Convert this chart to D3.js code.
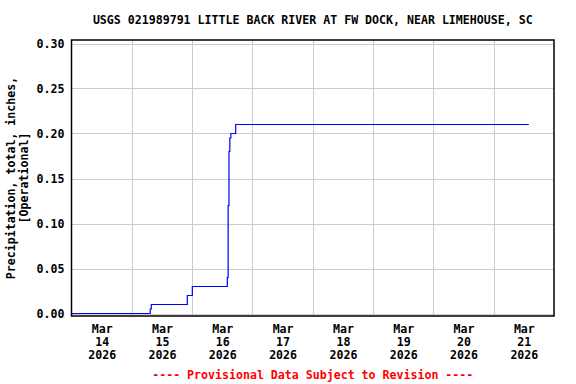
<!DOCTYPE html>
<html>
<head>
<meta charset="utf-8">
<script src="https://cdn.jsdelivr.net/npm/d3@7"></script>
<style>
  body { margin: 0; background: #fff; }
  svg { display: block; }
  text { font-family: "DejaVu Sans Mono", monospace; font-weight: bold; font-size: 11.6px; }
</style>
</head>
<body>
<svg id="chart" width="576" height="384"></svg>
<script>
// ---- data ----
const titleText = "USGS 021989791 LITTLE BACK RIVER AT FW DOCK, NEAR LIMEHOUSE, SC";
const yLabelLines = ["Precipitation, total, inches,", "[Operational]"];
const footerText = "---- Provisional Data Subject to Revision ----";

const times = [
  "2026-03-14T00:00", "2026-03-15T07:20", "2026-03-15T07:45", "2026-03-15T22:05",
  "2026-03-16T00:05", "2026-03-16T14:00", "2026-03-16T14:20", "2026-03-16T14:40",
  "2026-03-16T15:00", "2026-03-16T15:25", "2026-03-16T17:20", "2026-03-21T14:00"
];
const values = [0, 0.005, 0.01, 0.02, 0.03, 0.04, 0.12, 0.18, 0.195, 0.20, 0.21, 0.21];

const yTicks = [0, 0.05, 0.10, 0.15, 0.20, 0.25, 0.30];
const dayLabels = ["14", "15", "16", "17", "18", "19", "20", "21"];
const monthLabel = "Mar";
const yearLabel = "2026";
const xStart = "2026-03-14T00:00";
const xEnd = "2026-03-22T00:00";

// ---- drawing ----
const parse = d3.utcParse("%Y-%m-%dT%H:%M");
const data = times.map((t, i) => ({ t: parse(t), v: values[i] }));

const svg = d3.select("#chart");
const L = 71.5, R = 554, T = 40, B = 316;

const x = d3.scaleUtc().domain([parse(xStart), parse(xEnd)]).range([L, R]);
const y = d3.scaleLinear().domain([0, 0.30]).range([313.5, 43.5]);

// gridlines
const midnights = d3.utcDay.range(d3.utcDay.offset(parse(xStart), 1), parse(xEnd));
svg.append("g").selectAll("line").data(midnights).join("line")
  .attr("x1", d => Math.round(x(d)) + 0.5).attr("x2", d => Math.round(x(d)) + 0.5)
  .attr("y1", T).attr("y2", B)
  .attr("stroke", "#cccccc").attr("stroke-width", 1);
svg.append("g").selectAll("line").data(yTicks).join("line")
  .attr("x1", L).attr("x2", R)
  .attr("y1", d => Math.round(y(d)) + 0.5).attr("y2", d => Math.round(y(d)) + 0.5)
  .attr("stroke", "#cccccc").attr("stroke-width", 1);

// line
const line = d3.line().x(d => x(d.t)).y(d => y(d.v)).curve(d3.curveStepAfter);
svg.append("path").datum(data)
  .attr("d", line).attr("fill", "none")
  .attr("stroke", "#0000ff").attr("stroke-width", 1.2);

// frame
svg.append("rect").attr("x", L).attr("y", T).attr("width", R - L).attr("height", B - T)
  .attr("fill", "none").attr("stroke", "#000").attr("stroke-width", 1.5);

// y axis
const yAxis = d3.axisLeft(y).tickValues(yTicks).tickFormat(d3.format(".2f")).tickSize(0).tickPadding(7);
const gy = svg.append("g").attr("transform", `translate(${L},0)`).call(yAxis);
gy.select(".domain").remove();
gy.selectAll("text").attr("fill", "#000").style("font-size", "11.6px").style("font-family", "DejaVu Sans Mono");

// x axis labels at noon
const noons = dayLabels.map((d, i) => d3.utcHour.offset(d3.utcDay.offset(parse(xStart), i), 12));
const xAxis = d3.axisBottom(x).tickValues(noons).tickSize(0).tickFormat(() => "");
const gx = svg.append("g").attr("transform", `translate(0,${B})`).call(xAxis);
gx.select(".domain").remove();
gx.selectAll(".tick text").remove();
gx.selectAll(".tick").each(function(d, i) {
  const t = d3.select(this).append("text").attr("text-anchor", "middle").attr("fill", "#000")
    .style("font-size", "11.6px").style("font-family", "DejaVu Sans Mono");
  [monthLabel, dayLabels[i], yearLabel].forEach((s, k) => {
    t.append("tspan").attr("x", 0).attr("y", 17 + k * 13).text(s);
  });
});

// title
svg.append("text").attr("x", (L + R) / 2).attr("y", 24).attr("text-anchor", "middle")
  .attr("fill", "#000").text(titleText);

// y label
const yl = svg.append("text").attr("transform", `translate(0,${(T + B) / 2}) rotate(-90)`)
  .attr("text-anchor", "middle").attr("fill", "#000");
yLabelLines.forEach((s, k) => {
  yl.append("tspan").attr("x", 0).attr("y", 15 + k * 13).text(s);
});

// footer
svg.append("text").attr("x", (L + R) / 2).attr("y", 379).attr("text-anchor", "middle")
  .attr("fill", "#ff0000").text(footerText);
</script>
</body>
</html>
